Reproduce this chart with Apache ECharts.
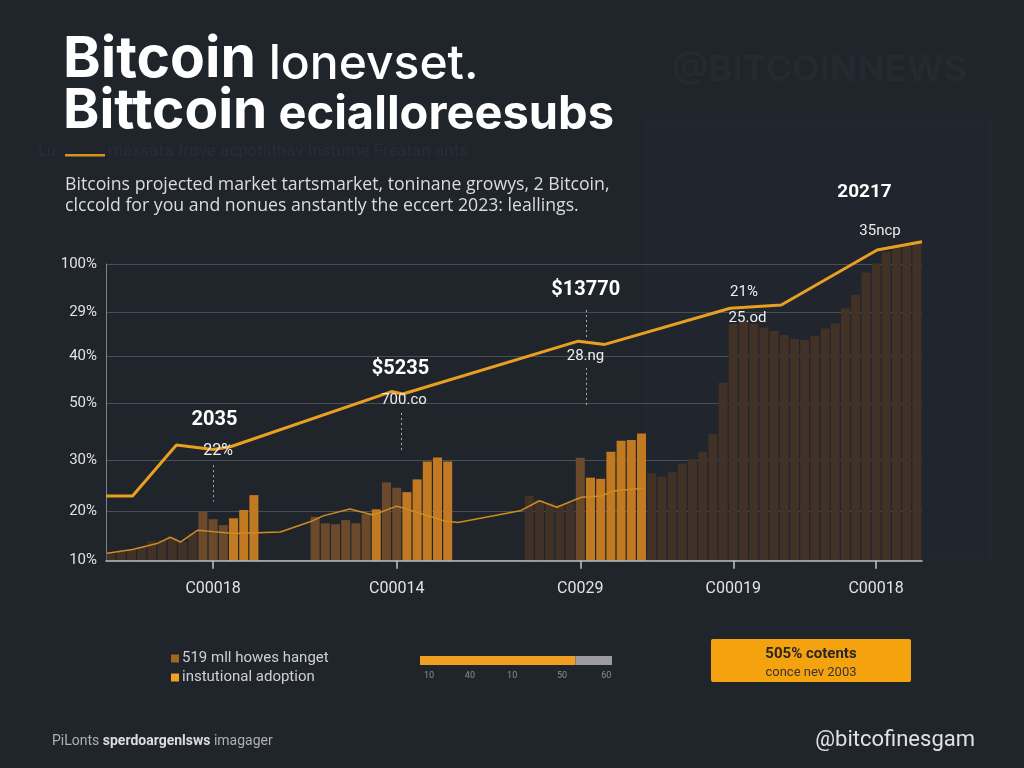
<!DOCTYPE html>
<html><head><meta charset="utf-8">
<script src="https://cdn.jsdelivr.net/npm/echarts@6/dist/echarts.min.js"></script>
<style>html,body{margin:0;padding:0;background:#20242b;}#c{width:1024px;height:768px;}</style>
</head><body><div id="c"></div>
<script>
// ---------- data ----------
const categories = Array.from({length: 80}, (_, i) => 'P' + (i + 1));
const xTickIndex = [10, 28, 46, 61, 75];
const xTickLabels = ['C00018', 'C00014', 'C0029', 'C00019', 'C00018'];
const yTickValues = [0, 16.8, 33.7, 52.9, 69.0, 83.9, 100];
const yTickLabels = ['10%', '20%', '30%', '50%', '40%', '29%', '100%'];

const N = null;
// dim background volume bars
const volumeBars = [2.5,3.2,3.6,4.6,6.6,6.9,7.8,6.4,9.3,N, N,N,N,N,N,N,N,N,N,N,
  N,N,N,N,N,N,N,N,N,N, N,N,N,N,N,N,N,N,N,N,
  N,21.8,20.4,19.4,18.8,19.4,N,N,N,N, N,N,N,29.5,28.3,30.0,32.8,34.2,36.7,42.7,
  60.0,79.8,80.6,79.8,78.6,77.4,76.1,74.7,74.4,75.7, 78.3,80.0,85.1,89.6,97.1,100.2,104.1,106.1,106.7,107.6];
// "519 mll howes hanget"
const holderBars = [N,N,N,N,N,N,N,N,N,16.5, 14.0,12.0,N,N,N,N,N,N,N,N,
  14.8,12.6,12.3,13.7,12.6,15.7,N,26.4,24.6,N, N,N,N,N,N,N,N,N,N,N,
  N,N,N,N,N,N,34.7,N,N,N, N,N,N,N,N,N,N,N,N,N,
  N,N,N,N,N,N,N,N,N,N, N,N,N,N,N,N,N,N,N,N];
// "instutional adoption"
const adoptionBars = [N,N,N,N,N,N,N,N,N,N, N,N,14.3,17.1,22.1,N,N,N,N,N,
  N,N,N,N,N,N,17.3,N,N,23.1, 27.4,33.4,34.8,33.4,N,N,N,N,N,N,
  N,N,N,N,N,N,N,28.0,27.6,36.7, 40.4,40.7,42.9,N,N,N,N,N,N,N,
  N,N,N,N,N,N,N,N,N,N, N,N,N,N,N,N,N,N,N,N];
// thick price line  [position, value]
const priceLine = [[0,21.8],[2.6,21.8],[6.9,39.0],[10.5,37.5],[12.2,38.4],[28.0,57.0],[29.1,56.2],
  [46.3,74.0],[48.9,72.9],[61.2,85.1],[66.2,86.2],[75.6,104.7],[80,107.5]];
// thin adoption trend line
const trendLine = [[0.1,2.5],[2.6,3.8],[5.1,5.9],[6.3,7.9],[7.3,6.3],[9.0,10.3],[10.5,9.8],[12.5,9.2],
  [17.1,9.7],[20.0,13.1],[21.3,15.1],[23.9,17.4],[26.2,15.4],[28.5,18.4],[30.8,16.0],[33.1,13.5],
  [34.5,12.9],[40.6,16.8],[42.5,20.2],[44.2,18.0],[46.6,21.4],[48.6,21.8],[49.7,23.5],[52.7,24.4]];
// leader lines [x, yFrom, yTo]
const leaders = [[10.5,32.2,19.9],[28.9,49.8,36.7],[47.1,84.5,75.1],[47.1,65.0,51.5],[75.4,119.3,114.8]];
// progress bar
const progressValues = [81, 19];
const progressTickValues = [4.7, 26, 48, 74, 97];
const progressTickLabels = ['10', '40', '10', '50', '60'];

// ---------- chart ----------
const chart = echarts.init(document.getElementById('c'));
const F = 'Roboto, "Noto Sans", sans-serif';
const T = 'Inter, Roboto, sans-serif';
const O = '"Open Sans", Roboto, sans-serif';
function txt(x, y, text, size, color, weight, align, fam) {
  return {type: 'text', x: x, y: y, z: 50, style: {text: text, fontSize: size, fontFamily: fam || F,
    fontWeight: weight || 'normal', fill: color, align: align || 'center', verticalAlign: 'middle'}};
}
const option = {
  backgroundColor: '#20242b',
  animation: false,
  legend: {
    orient: 'vertical', left: 166, top: 646, itemWidth: 8, itemHeight: 8, itemGap: 4,
    icon: 'rect', selectedMode: false,
    textStyle: {color: '#d0d0d0', fontSize: 15, fontFamily: F, padding: [0, 0, 0, -2]},
    data: [{name: '519 mll howes hanget', itemStyle: {color: '#a3651f'}},
           {name: 'instutional adoption', itemStyle: {color: '#f0a323'}}]
  },
  grid: [
    {left: 106, right: 102, top: 264, bottom: 207.3},
    {left: 420, width: 192, top: 656, height: 9}
  ],
  xAxis: [
    {type: 'category', data: categories, gridIndex: 0, z: 10,
      axisLine: {lineStyle: {color: '#b9bdc3', width: 1.5}},
      axisTick: {show: true, alignWithLabel: true, length: 8, lineStyle: {color: '#c4c4c4', width: 1.5},
        interval: (i) => xTickIndex.indexOf(i) >= 0},
      axisLabel: {interval: (i) => xTickIndex.indexOf(i) >= 0, margin: 20, color: '#e2e2e2',
        fontSize: 16, fontFamily: F,
        formatter: (v, i) => xTickLabels[xTickIndex.indexOf(i)] || ''},
      splitLine: {show: false}},
    {type: 'value', min: 0, max: 80, gridIndex: 0, show: false},
    {type: 'value', min: 0, max: 100, gridIndex: 1,
      axisLine: {show: false}, splitLine: {show: false},
      axisTick: {show: false, customValues: progressTickValues},
      axisLabel: {customValues: progressTickValues, margin: 6, color: '#8c8f94', fontSize: 9, fontFamily: F,
        formatter: (v) => progressTickLabels[progressTickValues.indexOf(v)]}}
  ],
  yAxis: [
    {type: 'value', min: 0, max: 100, gridIndex: 0,
      axisLine: {show: true, lineStyle: {color: '#7d8289', width: 1}},
      axisTick: {show: false, customValues: yTickValues},
      axisLabel: {customValues: yTickValues, margin: 9, color: '#e2e2e2', fontSize: 15, fontFamily: F,
        formatter: (v) => yTickLabels[yTickValues.indexOf(v)]},
      splitLine: {lineStyle: {color: '#4a4f57', width: 1}}},
    {type: 'category', data: ['p'], gridIndex: 1, show: false}
  ],
  series: [
    {name: 'volume', type: 'bar', data: volumeBars, barWidth: 9, barGap: '-100%', clip: false,
      itemStyle: {color: '#413126'}},
    {name: '519 mll howes hanget', type: 'bar', data: holderBars, barWidth: 9, barGap: '-100%', clip: false,
      itemStyle: {color: '#6b4a2c'}},
    {name: 'instutional adoption', type: 'bar', data: adoptionBars, barWidth: 9, barGap: '-100%', clip: false,
      itemStyle: {color: '#c27a22'}},
    {name: 'trend', type: 'line', xAxisIndex: 1, data: trendLine, symbol: 'none', z: 4,
      lineStyle: {color: '#d08b22', width: 1.5}},
    {name: 'price', type: 'line', xAxisIndex: 1, data: priceLine, symbol: 'none', z: 5, clip: false,
      lineStyle: {color: '#e9a021', width: 3},
      markLine: {silent: true, symbol: 'none', label: {show: false},
        lineStyle: {type: [2, 3], color: '#a9adb3', width: 1},
        data: leaders.map(l => [{coord: [l[0], l[1]]}, {coord: [l[0], l[2]]}])}},
    {name: 'done', type: 'bar', xAxisIndex: 2, yAxisIndex: 1, stack: 'p', barWidth: 9,
      data: [progressValues[0]], itemStyle: {color: '#f0a020'}},
    {name: 'rest', type: 'bar', xAxisIndex: 2, yAxisIndex: 1, stack: 'p', barWidth: 9,
      data: [progressValues[1]], itemStyle: {color: '#9a9ca2'}}
  ],
  graphic: [
    {type: 'rect', z: -1, shape: {x: 645, y: 120, width: 346, height: 440},
      style: {fill: '#21252d', stroke: '#272b33', lineWidth: 1}},
    {type: 'text', x: 672, y: 70, z: -1, style: {text: '@BITCOINNEWS', fontSize: 36, fontWeight: 'bold',
      fontFamily: T, fill: '#252930', verticalAlign: 'middle'}},
    {type: 'text', x: 38, y: 152, style: {text: 'Lu', fontSize: 17, fontFamily: F, fill: '#292d35', verticalAlign: 'middle'}},
    {type: 'text', x: 108, y: 152, style: {text: 'maxsata frove acpotiithav Instume Freatan ants', fontSize: 17,
      fontFamily: F, fill: '#292d35', verticalAlign: 'middle'}},
    {type: 'rect', shape: {x: 65, y: 154, width: 40, height: 2.5}, style: {fill: '#d4921f'}},
    {type: 'text', x: 63, y: 60, style: {text: '{a|Bitcoin}{b| lonevset.}', verticalAlign: 'middle',
      rich: {a: {fontSize: 57, fontWeight: 700, fontFamily: T, fill: '#ffffff', verticalAlign: 'bottom'},
             b: {fontSize: 48, fontWeight: 500, fontFamily: T, fill: '#ffffff', verticalAlign: 'bottom'}}}},
    {type: 'text', x: 63, y: 111, style: {text: '{a|Bittcoin}{b| ecialloreesubs}', verticalAlign: 'middle',
      rich: {a: {fontSize: 55, fontWeight: 700, fontFamily: T, fill: '#ffffff', verticalAlign: 'bottom'},
             b: {fontSize: 47, fontWeight: 700, fontFamily: T, fill: '#ffffff', verticalAlign: 'bottom'}}}},
    txt(65, 185, 'Bitcoins projected market tartsmarket, toninane growys, 2 Bitcoin,', 17.7, '#dcdcdc', 'normal', 'left', O),
    txt(65, 206, 'clccold for you and nonues anstantly the eccert 2023: leallings.', 17.7, '#dcdcdc', 'normal', 'left', O),
    txt(214.5, 420, '2035', 20, '#ffffff', 'bold'),
    txt(218, 451, '22%', 16, '#eeeeee'),
    txt(400.5, 369, '$5235', 20, '#ffffff', 'bold'),
    txt(404, 400.5, '700.co', 15, '#eeeeee'),
    txt(585.7, 290, '$13770', 20, '#ffffff', 'bold'),
    txt(585.5, 356, '28.ng', 15, '#eeeeee'),
    txt(744, 292, '21%', 15, '#eeeeee'),
    txt(747.5, 318, '25.od', 15, '#eeeeee'),
    txt(864.5, 192, '20217', 19, '#ffffff', 'bold'),
    txt(880, 231.5, '35ncp', 15, '#eeeeee'),
    {type: 'rect', shape: {x: 711, y: 639, width: 200, height: 43, r: 2}, style: {fill: '#f5a20f'}},
    txt(811, 654, '505% cotents', 15, '#262626', 'bold'),
    txt(811, 673, 'conce nev 2003', 13, '#3a3530'),
    {type: 'text', x: 52, y: 741, style: {text: '{n|PiLonts }{b|sperdoargenlsws}{n| imagager}', verticalAlign: 'middle',
      rich: {n: {fontSize: 14, fontFamily: F, fill: '#aeb0b4'}, b: {fontSize: 14, fontWeight: 'bold', fontFamily: F, fill: '#dcdcdc'}}}},
    txt(975, 740, '@bitcofinesgam', 22, '#e2e2e2', 'normal', 'right')
  ]
};
chart.setOption(option);
</script>
</body></html>
